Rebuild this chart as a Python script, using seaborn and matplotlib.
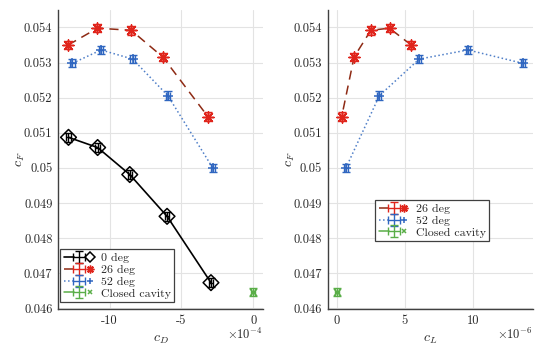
import numpy as np
import matplotlib
matplotlib.use("Agg")
import matplotlib.pyplot as plt
import seaborn as sns
from matplotlib.ticker import FuncFormatter
from matplotlib.legend_handler import HandlerTuple

# Force coefficient c_F against drag (x1e-4) and lift (x1e-6) coefficients
cd_0deg = [-12.87, -10.84, -8.6, -6.0, -2.94]
cf_0deg = [0.05087, 0.05058, 0.04981, 0.04862, 0.04673]

cd_26deg = [-12.9, -10.85, -8.5, -6.3, -3.15]
cl_26deg = [5.46, 3.87, 2.5, 1.27, 0.36]
cf_26deg = [0.05350, 0.05398, 0.05392, 0.05316, 0.05146]

cd_52deg = [-12.6, -10.6, -8.4, -5.95, -2.8]
cl_52deg = [13.65, 9.63, 6.05, 3.13, 0.66]
cf_52deg = [0.05298, 0.05336, 0.05310, 0.05206, 0.04999]

cd_closed = [0.0]
cl_closed = [0.0]
cf_closed = [0.04646]

cf_err = 0.00012
cd_err = 0.15
cl_err = 0.15

labels = ["0 deg", "26 deg", "52 deg", "Closed cavity"]

sns.set_style("white")
plt.rcParams["font.family"] = ["cmr10", "DejaVu Serif"]
plt.rcParams["mathtext.fontset"] = "cm"
plt.rcParams["axes.unicode_minus"] = False
plt.rcParams["axes.formatter.use_mathtext"] = True

fig = plt.figure(figsize=(5.5, 3.51), dpi=100)
ax1 = fig.add_axes([0.1055, 0.1197, 0.373, 0.852])
ax2 = fig.add_axes([0.596, 0.1197, 0.373, 0.852])

styles = {
    "0 deg": dict(color="black", mcolor="black", ls="-", marker="D", ms=8, lw=1.2),
    "26 deg": dict(color="#8e2a14", mcolor="#e0251c", ls=(0, (6, 4)), marker=(8, 2, 0), ms=8, lw=1.1),
    "52 deg": dict(color="#4f7fc8", mcolor="#2f66c0", ls=":", marker="+", ms=7, lw=1.1),
    "Closed cavity": dict(color="#5aae48", mcolor="#5aae48", ls="none", marker="x", ms=5, lw=1.1),
}


def draw(ax, x, y, xerr, name):
    s = styles[name]
    if s["ls"] != "none" and len(x) > 1:
        sns.lineplot(x=x, y=y, sort=False, ax=ax, color=s["color"], lw=s["lw"],
                     linestyle=s["ls"], estimator=None)
    eb = ax.errorbar(x, y, xerr=xerr, yerr=cf_err, fmt="none", ecolor=s["mcolor"],
                     elinewidth=1.0, capsize=3, capthick=1.0)
    sns.scatterplot(x=x, y=y, ax=ax, marker=s["marker"], s=s["ms"] ** 2,
                    facecolor="none" if s["marker"] == "D" else s["mcolor"],
                    edgecolor=s["mcolor"], linewidth=1.1, zorder=4)
    proxy = plt.Line2D([], [], color=s["color"], linestyle=s["ls"] if s["ls"] != "none" else "-",
                       lw=s["lw"])
    mk = plt.Line2D([], [], color=s["mcolor"], linestyle="none", marker=s["marker"],
                    markersize=s["ms"] * 0.7, mfc="none", mew=1.1)
    return (proxy, eb, mk)


h0 = draw(ax1, cd_0deg, cf_0deg, cd_err, "0 deg")
h1 = draw(ax1, cd_26deg, cf_26deg, cd_err, "26 deg")
h2 = draw(ax1, cd_52deg, cf_52deg, cd_err, "52 deg")
h3 = draw(ax1, cd_closed, cf_closed, cd_err, "Closed cavity")

g1 = draw(ax2, cl_26deg, cf_26deg, cl_err, "26 deg")
g2 = draw(ax2, cl_52deg, cf_52deg, cl_err, "52 deg")
g3 = draw(ax2, cl_closed, cf_closed, cl_err, "Closed cavity")

yfmt = FuncFormatter(lambda v, p: "%g" % round(v, 4))
for ax in (ax1, ax2):
    ax.set_ylim(0.04598, 0.0545)
    ax.set_yticks(np.arange(0.046, 0.0545, 0.001))
    ax.yaxis.set_major_formatter(yfmt)
    ax.grid(True, color="#e3e3e3", lw=0.8)
    ax.set_axisbelow(True)
    for sp in ("top", "right"):
        ax.spines[sp].set_visible(False)
    for sp in ("left", "bottom"):
        ax.spines[sp].set_color("#404040")
        ax.spines[sp].set_linewidth(1.0)
    ax.tick_params(direction="in", length=3, labelsize=9, color="#404040", pad=4)
    ax.set_ylabel("$c_F$", fontsize=10, labelpad=-2)

ax1.set_xlim(-13.6, 0.7)
ax1.set_xticks([-10, -5, 0])
ax1.set_xticklabels(["-10", "-5", "0"])
ax1.set_xlabel("$c_D$", fontsize=10, labelpad=5)
ax1.text(1.0, -0.06, r"$\times10^{-4}$", transform=ax1.transAxes, ha="right", va="top", fontsize=9)

ax2.set_xlim(-0.66, 14.4)
ax2.set_xticks([0, 5, 10])
ax2.set_xticklabels(["0", "5", "10"])
ax2.set_xlabel("$c_L$", fontsize=10, labelpad=5)
ax2.text(1.0, -0.06, r"$\times10^{-6}$", transform=ax2.transAxes, ha="right", va="top", fontsize=9)

leg_kw = dict(handler_map={tuple: HandlerTuple(ndivide=None, pad=0)}, fontsize=8.6,
              frameon=True, fancybox=False, edgecolor="#404040", framealpha=1,
              handlelength=2.6, handletextpad=0.5, borderpad=0.3, labelspacing=0.12,
              borderaxespad=0)
l1 = ax1.legend([h0, h1, h2, h3], labels, loc="lower left", bbox_to_anchor=(0.01, 0.023), **leg_kw)
l2 = ax2.legend([g1, g2, g3], labels[1:], loc="lower left", bbox_to_anchor=(0.23, 0.227), **leg_kw)
for l in (l1, l2):
    l.get_frame().set_linewidth(0.9)

fig.savefig("out.png", dpi=100)
